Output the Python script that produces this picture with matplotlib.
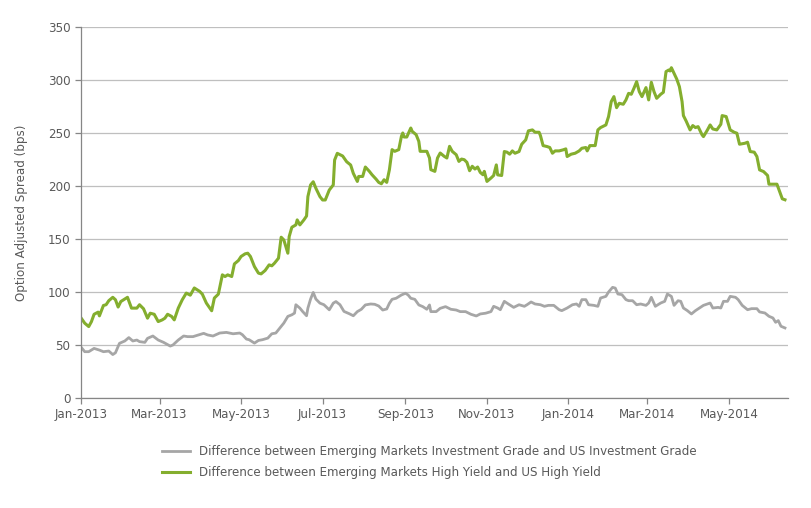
import pandas as pd
import matplotlib.pyplot as plt
import matplotlib.dates as mdates

# days since 1 Jan 2013 and spread values (bps)
hy_days = [0, 3, 6, 8, 10, 13, 14, 17, 19, 21, 24, 26, 28, 30, 34, 35, 38, 42, 44, 47,
           50, 52, 55, 58, 61, 63, 65, 68, 70, 73, 76, 79, 82, 85, 89, 91, 94, 98, 100, 103,
           106, 108, 110, 113, 115, 118, 120, 123, 125, 127, 130, 133, 135, 138, 141, 143, 145, 148, 150, 152,
           155, 156, 158, 161, 162, 164, 167, 169, 170, 172, 174, 176, 179, 181, 183, 186, 189, 190, 192, 196,
           199, 202, 204, 207, 208, 211, 213, 216, 218, 221, 223, 225, 227, 229, 231, 233, 235, 238, 240, 241,
           242, 244, 247, 248, 251, 253, 254, 257, 259, 261, 262, 265, 267, 269, 272, 274, 276, 278, 281, 283,
           285, 287, 289, 291, 293, 295, 297, 299, 301, 302, 304, 307, 309, 311, 312, 315, 317, 319, 321, 323,
           325, 328, 330, 333, 335, 338, 340, 343, 344, 346, 349, 351, 353, 355, 358, 361, 363, 364, 367, 370,
           373, 375, 378, 379, 381, 385, 387, 389, 393, 395, 397, 399, 401, 403, 406, 408, 410, 412, 414, 416,
           418, 420, 423, 425, 427, 429, 431, 434, 436, 438, 440, 441, 442, 444, 446, 448, 450, 451, 453, 456,
           458, 460, 462, 465, 466, 469, 471, 473, 476, 479, 480, 483, 486, 489, 491, 493, 497, 499, 501, 504,
           506, 508, 511, 514, 515, 518, 521, 523, 525, 527]
hy_spread = [76, 70.6, 67.4, 72, 79, 81, 77.5, 87.3, 88, 91.8, 95, 92.7, 85.8, 91, 94.3, 95, 84.8, 84.8, 88, 84.2,
             75.3, 80, 79, 72.1, 73.7, 75.3, 79, 77, 73.7, 84.8, 92.7, 99, 97, 103.8, 100.6, 98, 89.6, 82.3, 94.3, 98,
             116.2, 114.6, 116.2, 114.6, 126.5, 129.7, 133.5, 136, 136.6, 133.5, 124, 117.8, 117.1, 120.3, 125.6, 124.7, 127.2, 131.9, 151.7, 149.1,
             136.6, 152.3, 161.1, 163.3, 168, 163.3, 168, 171.7, 190, 201, 204, 197.8, 190, 186.8, 186.8, 196.2, 201, 224.5, 230.8, 228.3,
             222.9, 219.8, 211.9, 204.3, 209, 209, 217.9, 213.8, 210.6, 206.5, 203.4, 202.1, 205.9, 203.4, 215.4, 234.3, 232.7, 234.3, 246.9, 250,
             246.2, 246.2, 254.7, 251.6, 248.4, 242.1, 232.7, 232.7, 232.7, 226.4, 215.4, 213.8, 226.4, 231.1, 228, 226.4, 237.4, 232.7, 229.5, 223.2,
             225.4, 224.8, 222.3, 214.4, 218.6, 216, 217.9, 212.8, 210.6, 213.8, 204.3, 207.5, 209.9, 219.9, 210.5, 209.9, 232.5, 231.9, 230, 233.1,
             230.9, 232.5, 239.4, 243.5, 252, 252.9, 250.7, 250.7, 247.6, 238.1, 237.2, 236.3, 230.9, 233.1, 233.1, 234.1, 235, 227.8, 230, 230.9,
             233.1, 235.6, 236.3, 233.1, 238.1, 238.1, 252.9, 255.1, 257.6, 265.5, 279.6, 284.3, 273.9, 278, 277.1, 281.2, 287.4, 286.5, 292.2, 298.4,
             289, 284.3, 292.8, 281.2, 297.8, 289, 282.7, 286.5, 288.4, 307.9, 309.4, 308.5, 311.6, 306.3, 300.9, 293.7, 279.6, 266.4, 261.4, 252.9,
             257, 255.1, 256, 248.2, 246.6, 252.9, 257.6, 253.8, 252.9, 258.2, 266.4, 265.5, 252.9, 250.7, 249.8, 239.4, 240.3, 241.3, 232.5, 231.9,
             227.8, 215.2, 213.6, 209.9, 201.7, 201.7, 201.7, 194.8, 187.9, 187]

ig_days = [0, 3, 6, 10, 14, 17, 21, 24, 26, 29, 33, 36, 39, 42, 44, 48, 50, 54, 58, 62,
           67, 69, 73, 77, 80, 84, 88, 92, 95, 99, 104, 109, 114, 119, 121, 124, 126, 130, 133, 136,
           140, 143, 146, 149, 152, 155, 158, 160, 161, 164, 166, 169, 170, 172, 174, 176, 179, 182, 186, 189,
           191, 194, 197, 201, 204, 207, 210, 213, 217, 220, 223, 226, 229, 231, 233, 236, 240, 243, 245, 247,
           250, 253, 256, 259, 261, 262, 266, 269, 273, 277, 281, 284, 288, 292, 296, 299, 303, 307, 309, 312,
           314, 317, 320, 324, 328, 332, 334, 337, 340, 344, 347, 350, 354, 358, 360, 364, 368, 371, 373, 375,
           378, 380, 384, 387, 389, 393, 395, 398, 400, 402, 405, 408, 410, 413, 416, 419, 423, 425, 427, 430,
           434, 437, 439, 442, 444, 447, 449, 451, 454, 457, 460, 463, 466, 471, 473, 477, 479, 481, 484, 486,
           490, 492, 495, 499, 502, 506, 508, 512, 515, 518, 520, 522, 524, 527]
ig_spread = [48.4, 43.7, 43.7, 46.8, 45.2, 43.7, 44.3, 41, 42.7, 51.6, 53.8, 57, 53.8, 54.7, 53.2, 52.5, 56.3, 58.5, 54.7, 52.5,
             49, 50, 54.7, 58.5, 57.9, 57.9, 59.5, 61, 59.5, 58.5, 61.3, 61.9, 60.6, 61.3, 59.7, 55.6, 55, 51.8, 54.3, 55,
             56.5, 60.6, 61.3, 66, 70.7, 77, 78.5, 80.1, 88, 84.8, 81.7, 77.6, 84.8, 93.3, 99.6, 93.3, 89.5, 88, 83.2, 89.5,
             91, 88, 81.7, 79.5, 77.6, 81.5, 83.7, 87.8, 88.7, 88.4, 86.8, 83, 84, 89.4, 93.1, 94.1, 97.2, 98.8, 97.2, 94.1,
             93.1, 87.8, 86.2, 83.7, 87.8, 81.5, 81.5, 84.6, 86.2, 83.7, 83, 81.5, 81.5, 79, 77.4, 79.3, 80, 81.5, 86.5, 84.9,
             83.3, 91.2, 88.7, 85.5, 88, 86.5, 88, 90.6, 88.7, 88, 86.5, 87.4, 87.4, 83.3, 82.4, 84.9, 88, 88.7, 86.5, 92.8,
             92.8, 88, 87.4, 86.5, 94.3, 95.9, 100, 104.4, 103.7, 98.1, 97.5, 92.8, 91.8, 91.8, 88, 88.7, 87.4, 89.6, 95, 86.5,
             89.6, 91.2, 98.1, 95.9, 87.4, 91.8, 91.2, 84.9, 82.4, 79.3, 82.4, 84.9, 87.4, 89.6, 84.9, 85.5, 84.9, 91.2, 91.2, 95.9,
             95, 92.8, 87.4, 83.3, 84.3, 84.3, 81.2, 80.2, 77.1, 75.5, 71.4, 73, 67.7, 66.1]

ig_label = "Difference between Emerging Markets Investment Grade and US Investment Grade"
hy_label = "Difference between Emerging Markets High Yield and US High Yield"

inicio = pd.Timestamp("2013-01-01")
ig_fechas = inicio + pd.to_timedelta(ig_days, unit="D")
hy_fechas = inicio + pd.to_timedelta(hy_days, unit="D")

texto = "#595959"
plt.rcParams["font.family"] = "DejaVu Sans"
plt.rcParams["font.size"] = 8.6

fig = plt.figure(figsize=(8.12, 5.08), dpi=100)
ax = fig.add_axes([0.0994, 0.2165, 0.8706, 0.7304])

ax.plot(ig_fechas, ig_spread, color="#A6A6A6", linewidth=2.0, label=ig_label)
ax.plot(hy_fechas, hy_spread, color="#84AE2E", linewidth=2.2, label=hy_label)

ax.set_ylim(0, 350)
ax.set_yticks(range(0, 351, 50))
ax.set_xlim(inicio, pd.Timestamp("2014-06-14"))
ax.xaxis.set_major_locator(mdates.MonthLocator(bymonth=[1, 3, 5, 7, 9, 11]))
ax.xaxis.set_major_formatter(mdates.DateFormatter("%b-%Y"))

ax.grid(axis="y", color="#BFBFBF", linewidth=0.9)
ax.set_axisbelow(True)
for lado in ["top", "right"]:
    ax.spines[lado].set_visible(False)
for lado in ["left", "bottom"]:
    ax.spines[lado].set_color("#868686")
    ax.spines[lado].set_linewidth(0.9)
ax.tick_params(colors="#868686", labelcolor=texto, length=4, width=0.9, direction="out")
ax.tick_params(axis="x", pad=3)

ax.set_ylabel("Option Adjusted Spread (bps)", color=texto, labelpad=14)

fig.legend(loc="center left", bbox_to_anchor=(0.2, 0.0906), frameon=False,
           borderpad=0, borderaxespad=0, handlelength=2.3, handletextpad=0.75,
           labelspacing=0.7, labelcolor=texto)

fig.savefig("out.png", dpi=100)
